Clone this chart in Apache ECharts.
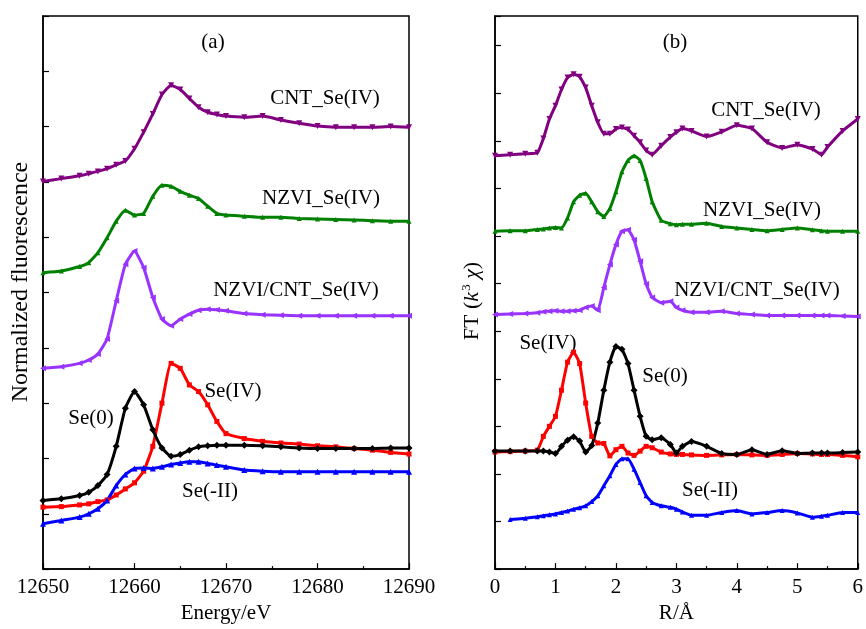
<!DOCTYPE html>
<html>
<head>
<meta charset="UTF-8">
<title>Se XANES / EXAFS</title>
<style>html,body{margin:0;padding:0;background:#fff;}</style>
</head>
<body>
<div id="chart" style="width:866px;height:629px;"></div>
<script src="https://cdn.jsdelivr.net/npm/echarts@6/dist/echarts.min.js"></script>
<script>
// (a) XANES, energy in eV
var energy = [12650,12652,12654,12655,12656,12657,12658,12659,12660,12661,12662,12663,12664,12665,12666,12667,12668,12669,12670,12672,12674,12676,12678,12680,12682,12684,12686,12688,12690];
var cntA     = [7.01,7.06,7.11,7.15,7.19,7.24,7.31,7.38,7.60,7.90,8.23,8.58,8.75,8.67,8.51,8.35,8.26,8.22,8.19,8.17,8.19,8.12,8.06,8.01,7.99,7.99,7.99,8.00,7.99];
var nzviA    = [5.36,5.39,5.47,5.54,5.72,5.99,6.29,6.49,6.40,6.43,6.74,6.94,6.92,6.83,6.76,6.70,6.56,6.43,6.40,6.38,6.36,6.36,6.34,6.33,6.32,6.31,6.30,6.29,6.29];
var nzviCntA = [3.63,3.66,3.72,3.78,3.89,4.16,4.85,5.51,5.75,5.45,4.91,4.52,4.40,4.52,4.61,4.68,4.70,4.69,4.67,4.62,4.60,4.59,4.58,4.58,4.58,4.58,4.58,4.58,4.58];
var se0A     = [1.24,1.27,1.33,1.39,1.51,1.71,2.22,2.91,3.21,2.97,2.52,2.19,2.04,2.07,2.15,2.21,2.23,2.24,2.24,2.24,2.23,2.21,2.19,2.18,2.18,2.18,2.18,2.19,2.19];
var se4A     = [1.12,1.13,1.16,1.18,1.22,1.25,1.34,1.45,1.56,1.77,2.22,3.00,3.72,3.63,3.33,3.21,2.97,2.67,2.45,2.36,2.31,2.28,2.26,2.23,2.21,2.18,2.15,2.11,2.08];
var seM2A    = [0.82,0.88,0.94,1.00,1.09,1.24,1.51,1.71,1.82,1.83,1.82,1.85,1.89,1.92,1.94,1.94,1.91,1.88,1.85,1.79,1.77,1.76,1.76,1.76,1.76,1.76,1.76,1.76,1.76];

// (b) FT, R in angstrom
var rDist = [0,0.25,0.5,0.7,0.8,0.9,1.0,1.1,1.2,1.3,1.4,1.5,1.6,1.7,1.8,1.9,2.0,2.1,2.2,2.3,2.4,2.5,2.6,2.75,2.9,3.0,3.1,3.25,3.5,3.75,4.0,4.25,4.5,4.75,5.0,5.25,5.4,5.5,5.75,6.0];
var cntB     = [8.69,8.71,8.73,8.75,9.05,9.46,9.74,10.08,10.33,10.40,10.35,10.12,9.74,9.39,9.15,9.15,9.25,9.28,9.24,9.11,8.97,8.80,8.71,8.90,9.08,9.18,9.26,9.21,9.09,9.19,9.33,9.26,8.97,8.85,8.92,8.83,8.71,8.87,9.21,9.46];
var nzviB    = [7.10,7.11,7.11,7.14,7.15,7.17,7.18,7.17,7.38,7.72,7.86,7.90,7.72,7.51,7.41,7.58,7.93,8.35,8.59,8.69,8.59,8.21,7.72,7.33,7.26,7.24,7.25,7.25,7.27,7.20,7.17,7.14,7.11,7.14,7.17,7.13,7.11,7.10,7.10,7.10];
var nzviCntB = [5.35,5.36,5.37,5.39,5.41,5.42,5.43,5.42,5.42,5.43,5.44,5.50,5.53,5.44,5.92,6.40,6.82,7.10,7.13,6.92,6.47,5.99,5.71,5.60,5.63,5.50,5.44,5.40,5.40,5.42,5.37,5.35,5.33,5.33,5.33,5.33,5.33,5.33,5.32,5.31];
var se4B     = [2.46,2.47,2.48,2.50,2.79,3.00,3.21,3.76,4.35,4.56,4.32,3.49,2.79,2.65,2.64,2.38,2.51,2.58,2.44,2.39,2.48,2.58,2.55,2.46,2.42,2.41,2.41,2.40,2.39,2.40,2.41,2.40,2.39,2.41,2.43,2.42,2.41,2.41,2.39,2.36];
var se0B     = [2.48,2.48,2.48,2.48,2.48,2.46,2.43,2.58,2.71,2.78,2.69,2.46,2.60,3.07,3.76,4.35,4.68,4.62,4.32,3.76,3.21,2.79,2.72,2.76,2.62,2.44,2.58,2.68,2.58,2.43,2.41,2.51,2.41,2.49,2.43,2.44,2.44,2.44,2.45,2.46];
var seM2B    = [null,1.04,1.07,1.10,1.12,1.14,1.16,1.19,1.22,1.26,1.29,1.33,1.42,1.54,1.75,1.96,2.20,2.32,2.32,2.10,1.82,1.54,1.40,1.33,1.30,1.26,1.20,1.13,1.13,1.19,1.23,1.16,1.19,1.23,1.18,1.09,1.11,1.13,1.19,1.19];

var serif = '"Liberation Serif", "Times New Roman", serif';

function pairs(xs, ys) {
	var out = [];
	for (var i = 0; i < xs.length; i++) {
		out.push([xs[i], ys[i]]);
	}
	return out;
}

function curve(idx, xs, ys, color, symbol, rot, size) {
	return {
		type: 'line',
		xAxisIndex: idx,
		yAxisIndex: idx,
		data: pairs(xs, ys),
		symbol: symbol,
		symbolSize: size || 6,
		symbolRotate: rot || 0,
		showAllSymbol: true,
		smooth: 0.15,
		lineStyle: {color: color, width: 3},
		itemStyle: {color: color},
		silent: true
	};
}

function xAxis(idx, min, max, name) {
	return {
		type: 'value',
		gridIndex: idx,
		min: min,
		max: max,
		interval: idx === 0 ? 10 : 1,
		axisLine: {show: true, lineStyle: {color: '#000', width: 1.5}},
		axisTick: {show: true, inside: true, length: 6, lineStyle: {color: '#000', width: 1.2}},
		minorTick: {show: true, splitNumber: 2, length: 3, lineStyle: {color: '#000', width: 1.2}},
		axisLabel: {
			color: '#000', fontFamily: serif, fontSize: 21, margin: 8,
			formatter: function (v) { return String(v); }
		},
		splitLine: {show: false},
		name: name,
		nameLocation: 'middle',
		nameGap: 33,
		nameTextStyle: {color: '#000', fontFamily: serif, fontSize: 21}
	};
}

function yAxis(idx, max) {
	return {
		type: 'value',
		gridIndex: idx,
		min: 0,
		max: max,
		interval: 1,
		axisLine: {show: true, lineStyle: {color: '#000', width: 1.5}},
		axisTick: {show: true, inside: true, length: 6, lineStyle: {color: '#000', width: 1.2}},
		axisLabel: {show: false},
		splitLine: {show: false}
	};
}

function label(text, x, y, size) {
	return {
		type: 'text',
		x: x,
		y: y,
		style: {
			text: text,
			fill: '#000',
			font: (size || 20) + 'px ' + serif,
			textAlign: 'center', align: 'center',
			textVerticalAlign: 'middle', verticalAlign: 'middle'
		}
	};
}

var chart = echarts.init(document.getElementById('chart'));
chart.setOption({
	animation: false,
	backgroundColor: '#fff',
	grid: [
		{left: 43, top: 16, width: 366, height: 558, show: true, borderColor: '#000', borderWidth: 1.5},
		{left: 495, top: 16, width: 367, height: 558, show: true, borderColor: '#000', borderWidth: 1.5}
	],
	xAxis: [xAxis(0, 12650, 12690, 'Energy/eV'), xAxis(1, 0, 6, 'R/Å')],
	yAxis: [yAxis(0, 10), yAxis(1, 11.625)],
	series: [
		curve(0, energy, cntA, '#800080', 'triangle', 180),
		curve(0, energy, nzviA, '#008000', 'triangle', 0, 5),
		curve(0, energy, nzviCntA, '#9933ff', 'triangle', 90),
		curve(0, energy, se4A, '#ff0000', 'rect', 0, 5),
		curve(0, energy, se0A, '#000000', 'diamond', 0, 7),
		curve(0, energy, seM2A, '#0000ff', 'triangle', 0),
		curve(1, rDist, cntB, '#800080', 'triangle', 180),
		curve(1, rDist, nzviB, '#008000', 'triangle', 0, 5),
		curve(1, rDist, nzviCntB, '#9933ff', 'triangle', 90),
		curve(1, rDist, se4B, '#ff0000', 'rect', 0, 5),
		curve(1, rDist, se0B, '#000000', 'diamond', 0, 7),
		curve(1, rDist, seM2B, '#0000ff', 'triangle', 0, 5)
	],
	graphic: [
		label('(a)', 213, 42, 21),
		label('CNT_Se(IV)', 325, 98, 21),
		label('NZVI_Se(IV)', 321, 198, 21),
		label('NZVI/CNT_Se(IV)', 296, 290, 21),
		label('Se(IV)', 233, 391, 21),
		label('Se(0)', 91, 418, 21),
		label('Se(-II)', 210, 491, 21),
		label('(b)', 675, 42, 21),
		label('CNT_Se(IV)', 766, 110, 21),
		label('NZVI_Se(IV)', 762, 210, 21),
		label('NZVI/CNT_Se(IV)', 757, 290, 21),
		label('Se(IV)', 548, 343, 21),
		label('Se(0)', 665, 376, 21),
		label('Se(-II)', 710, 490, 21),
		{
			type: 'text', x: 21, y: 282, rotation: Math.PI / 2,
			style: {
				text: 'Normalized fluorescence', fill: '#000', font: '24px ' + serif,
				textAlign: 'center', align: 'center', textVerticalAlign: 'middle', verticalAlign: 'middle'
			}
		},
		{
			type: 'text', x: 472, y: 301, rotation: Math.PI / 2,
			style: {
				text: '{n|FT (}{i|k}{s|3}{n| }{i|χ}{n|)}',
				fill: '#000',
				font: '22px ' + serif,
				textAlign: 'center', align: 'center', textVerticalAlign: 'middle', verticalAlign: 'middle',
				rich: {
					n: {fontFamily: serif, fontSize: 22, fill: '#000', color: '#000'},
					i: {fontFamily: serif, fontSize: 22, fontStyle: 'italic', fill: '#000', color: '#000'},
					s: {fontFamily: serif, fontSize: 13, fill: '#000', color: '#000', verticalAlign: 'top', padding: [0, 0, 10, 1]}
				}
			}
		}
	]
});
</script>
</body>
</html>
